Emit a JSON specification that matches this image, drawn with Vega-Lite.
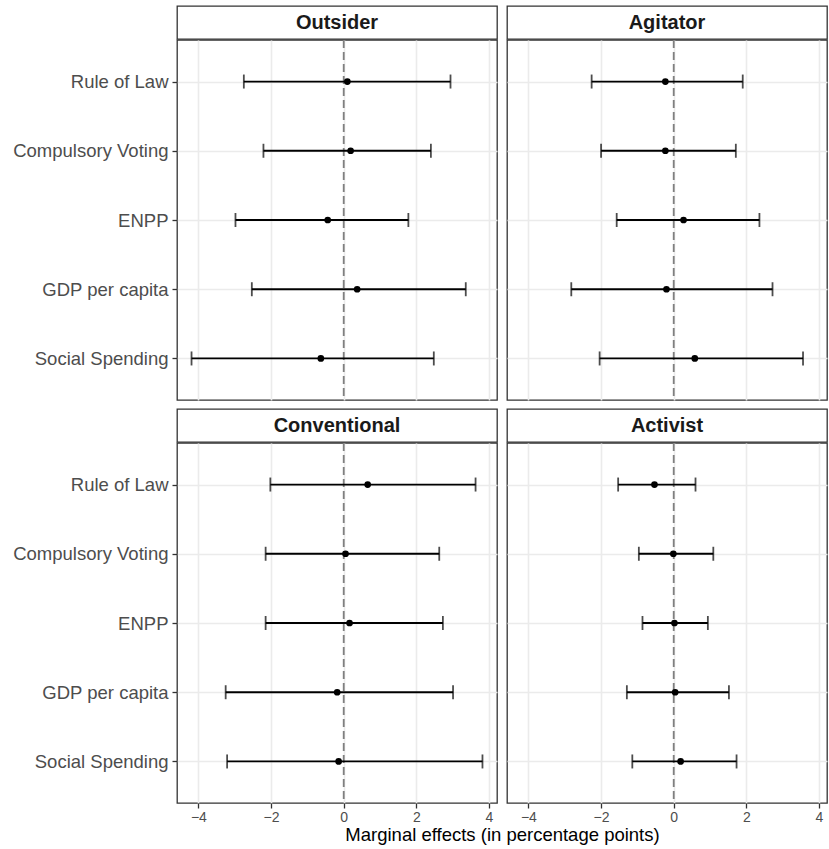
{
  "$schema": "https://vega.github.io/schema/vega-lite/v6.json",
  "padding": {"left": 12, "top": 5, "right": 0, "bottom": 0},
  "background": "white",
  "config": {
    "font": "Liberation Sans",
    "view": {"stroke": "#333333", "strokeWidth": 1.3}
  },
  "datasets": {
    "effects": [
      {"type": "Outsider", "var": "Rule of Law", "est": 0.10, "lo": -2.75, "hi": 2.94},
      {"type": "Outsider", "var": "Compulsory Voting", "est": 0.19, "lo": -2.21, "hi": 2.40},
      {"type": "Outsider", "var": "ENPP", "est": -0.44, "lo": -2.98, "hi": 1.78},
      {"type": "Outsider", "var": "GDP per capita", "est": 0.37, "lo": -2.53, "hi": 3.36},
      {"type": "Outsider", "var": "Social Spending", "est": -0.63, "lo": -4.19, "hi": 2.48},
      {"type": "Agitator", "var": "Rule of Law", "est": -0.23, "lo": -2.26, "hi": 1.90},
      {"type": "Agitator", "var": "Compulsory Voting", "est": -0.23, "lo": -2.00, "hi": 1.71},
      {"type": "Agitator", "var": "ENPP", "est": 0.27, "lo": -1.57, "hi": 2.36},
      {"type": "Agitator", "var": "GDP per capita", "est": -0.20, "lo": -2.82, "hi": 2.72},
      {"type": "Agitator", "var": "Social Spending", "est": 0.58, "lo": -2.04, "hi": 3.56},
      {"type": "Conventional", "var": "Rule of Law", "est": 0.66, "lo": -2.02, "hi": 3.63},
      {"type": "Conventional", "var": "Compulsory Voting", "est": 0.05, "lo": -2.15, "hi": 2.63},
      {"type": "Conventional", "var": "ENPP", "est": 0.16, "lo": -2.15, "hi": 2.73},
      {"type": "Conventional", "var": "GDP per capita", "est": -0.18, "lo": -3.25, "hi": 3.01},
      {"type": "Conventional", "var": "Social Spending", "est": -0.14, "lo": -3.21, "hi": 3.82},
      {"type": "Activist", "var": "Rule of Law", "est": -0.53, "lo": -1.53, "hi": 0.60},
      {"type": "Activist", "var": "Compulsory Voting", "est": -0.01, "lo": -0.96, "hi": 1.09},
      {"type": "Activist", "var": "ENPP", "est": 0.02, "lo": -0.86, "hi": 0.94},
      {"type": "Activist", "var": "GDP per capita", "est": 0.04, "lo": -1.29, "hi": 1.52},
      {"type": "Activist", "var": "Social Spending", "est": 0.19, "lo": -1.14, "hi": 1.73}
    ],
    "strips": [
      {"type": "Outsider"}, {"type": "Agitator"}, {"type": "Conventional"}, {"type": "Activist"}
    ],
    "zero": [{"zero": 0}]
  },
  "spacing": 6,
  "vconcat": [
    {
      "spacing": -2,
      "vconcat": [
        {
          "bounds": "flush",
          "spacing": 10,
          "hconcat": [
            {"data": {"name": "strips"}, "transform": [{"filter": "datum.type === 'Outsider'"}], "width": 320, "height": 33,
             "view": {"stroke": "#333333", "strokeWidth": 1.3, "fill": "white"},
             "mark": {"type": "text", "fontWeight": "bold", "fontSize": 20, "color": "#1a1a1a"},
             "encoding": {"text": {"field": "type"}}},
            {"data": {"name": "strips"}, "transform": [{"filter": "datum.type === 'Agitator'"}], "width": 320, "height": 33,
             "view": {"stroke": "#333333", "strokeWidth": 1.3, "fill": "white"},
             "mark": {"type": "text", "fontWeight": "bold", "fontSize": 20, "color": "#1a1a1a"},
             "encoding": {"text": {"field": "type"}}}
          ]
        },
        {
          "bounds": "flush",
          "spacing": 10,
          "hconcat": [
            {
              "width": 320, "height": 360,
              "data": {"name": "effects"},
              "transform": [{"filter": "datum.type === 'Outsider'"}],
              "layer": [
                {"data": {"name": "zero"},
                 "mark": {"type": "rule", "color": "#7f7f7f", "strokeDash": [8, 4], "strokeWidth": 1.8},
                 "encoding": {"x": {"field": "zero", "type": "quantitative", "scale": {"domain": [-4.59, 4.22], "nice": false, "zero": false},
                   "axis": {"values": [-4, -3, -2, -1, 0, 1, 2, 3, 4], "labels": false, "ticks": false, "domain": false, "title": null, "gridColor": "#ebebeb", "gridWidth": {"condition": {"test": "datum.value % 2 !== 0", "value": 0.9}, "value": 1.6}}}}},
                {"mark": {"type": "rule", "color": "black", "strokeWidth": 1.8},
                 "encoding": {
                   "x": {"field": "lo", "type": "quantitative", "scale": {"domain": [-4.59, 4.22], "nice": false, "zero": false},
                     "axis": {"values": [-4, -3, -2, -1, 0, 1, 2, 3, 4], "labels": false, "ticks": false, "domain": false, "title": null, "gridColor": "#ebebeb", "gridWidth": {"condition": {"test": "datum.value % 2 !== 0", "value": 0.9}, "value": 1.6}}},
                   "x2": {"field": "hi"},
                   "y": {"field": "var", "type": "nominal", "sort": ["Rule of Law", "Compulsory Voting", "ENPP", "GDP per capita", "Social Spending"], "scale": {"type": "point", "padding": 0.6},
                     "axis": {"title": null, "domain": false, "grid": true, "gridColor": "#ebebeb", "gridWidth": 1.6, "tickSize": 5, "tickColor": "#333333", "tickWidth": 1.3, "labelFontSize": 18.5, "labelColor": "#4d4d4d", "labelPadding": 4}}}},
                {"mark": {"type": "tick", "color": "black", "size": 14, "thickness": 1.8},
                 "encoding": {
                   "x": {"field": "lo", "type": "quantitative"},
                   "y": {"field": "var", "type": "nominal", "sort": ["Rule of Law", "Compulsory Voting", "ENPP", "GDP per capita", "Social Spending"]}}},
                {"mark": {"type": "tick", "color": "black", "size": 14, "thickness": 1.8},
                 "encoding": {
                   "x": {"field": "hi", "type": "quantitative"},
                   "y": {"field": "var", "type": "nominal", "sort": ["Rule of Law", "Compulsory Voting", "ENPP", "GDP per capita", "Social Spending"]}}},
                {"mark": {"type": "point", "filled": true, "color": "black", "opacity": 1, "size": 45},
                 "encoding": {
                   "x": {"field": "est", "type": "quantitative"},
                   "y": {"field": "var", "type": "nominal", "sort": ["Rule of Law", "Compulsory Voting", "ENPP", "GDP per capita", "Social Spending"]}}}
              ]
            },
            {
              "width": 320, "height": 360,
              "data": {"name": "effects"},
              "transform": [{"filter": "datum.type === 'Agitator'"}],
              "layer": [
                {"data": {"name": "zero"},
                 "mark": {"type": "rule", "color": "#7f7f7f", "strokeDash": [8, 4], "strokeWidth": 1.8},
                 "encoding": {"x": {"field": "zero", "type": "quantitative", "scale": {"domain": [-4.59, 4.22], "nice": false, "zero": false},
                   "axis": {"values": [-4, -3, -2, -1, 0, 1, 2, 3, 4], "labels": false, "ticks": false, "domain": false, "title": null, "gridColor": "#ebebeb", "gridWidth": {"condition": {"test": "datum.value % 2 !== 0", "value": 0.9}, "value": 1.6}}}}},
                {"mark": {"type": "rule", "color": "black", "strokeWidth": 1.8},
                 "encoding": {
                   "x": {"field": "lo", "type": "quantitative", "scale": {"domain": [-4.59, 4.22], "nice": false, "zero": false},
                     "axis": {"values": [-4, -3, -2, -1, 0, 1, 2, 3, 4], "labels": false, "ticks": false, "domain": false, "title": null, "gridColor": "#ebebeb", "gridWidth": {"condition": {"test": "datum.value % 2 !== 0", "value": 0.9}, "value": 1.6}}},
                   "x2": {"field": "hi"},
                   "y": {"field": "var", "type": "nominal", "sort": ["Rule of Law", "Compulsory Voting", "ENPP", "GDP per capita", "Social Spending"], "scale": {"type": "point", "padding": 0.6},
                     "axis": {"title": null, "domain": false, "labels": false, "ticks": false, "grid": true, "gridColor": "#ebebeb", "gridWidth": 1.6}}}},
                {"mark": {"type": "tick", "color": "black", "size": 14, "thickness": 1.8},
                 "encoding": {
                   "x": {"field": "lo", "type": "quantitative"},
                   "y": {"field": "var", "type": "nominal", "sort": ["Rule of Law", "Compulsory Voting", "ENPP", "GDP per capita", "Social Spending"]}}},
                {"mark": {"type": "tick", "color": "black", "size": 14, "thickness": 1.8},
                 "encoding": {
                   "x": {"field": "hi", "type": "quantitative"},
                   "y": {"field": "var", "type": "nominal", "sort": ["Rule of Law", "Compulsory Voting", "ENPP", "GDP per capita", "Social Spending"]}}},
                {"mark": {"type": "point", "filled": true, "color": "black", "opacity": 1, "size": 45},
                 "encoding": {
                   "x": {"field": "est", "type": "quantitative"},
                   "y": {"field": "var", "type": "nominal", "sort": ["Rule of Law", "Compulsory Voting", "ENPP", "GDP per capita", "Social Spending"]}}}
              ]
            }
          ]
        }
      ]
    },
    {
      "spacing": -2,
      "vconcat": [
        {
          "bounds": "flush",
          "spacing": 10,
          "hconcat": [
            {"data": {"name": "strips"}, "transform": [{"filter": "datum.type === 'Conventional'"}], "width": 320, "height": 33,
             "view": {"stroke": "#333333", "strokeWidth": 1.3, "fill": "white"},
             "mark": {"type": "text", "fontWeight": "bold", "fontSize": 20, "color": "#1a1a1a"},
             "encoding": {"text": {"field": "type"}}},
            {"data": {"name": "strips"}, "transform": [{"filter": "datum.type === 'Activist'"}], "width": 320, "height": 33,
             "view": {"stroke": "#333333", "strokeWidth": 1.3, "fill": "white"},
             "mark": {"type": "text", "fontWeight": "bold", "fontSize": 20, "color": "#1a1a1a"},
             "encoding": {"text": {"field": "type"}}}
          ]
        },
        {
          "bounds": "flush",
          "spacing": 10,
          "hconcat": [
            {
              "width": 320, "height": 360,
              "data": {"name": "effects"},
              "transform": [{"filter": "datum.type === 'Conventional'"}],
              "layer": [
                {"data": {"name": "zero"},
                 "mark": {"type": "rule", "color": "#7f7f7f", "strokeDash": [8, 4], "strokeWidth": 1.8},
                 "encoding": {"x": {"field": "zero", "type": "quantitative", "scale": {"domain": [-4.59, 4.22], "nice": false, "zero": false},
                   "axis": {"values": [-4, -3, -2, -1, 0, 1, 2, 3, 4], "labelExpr": "datum.value % 2 === 0 ? datum.label : ''", "tickOpacity": {"condition": {"test": "datum.value % 2 !== 0", "value": 0}, "value": 1}, "domain": false, "tickSize": 5, "tickColor": "#333333", "tickWidth": 1.3, "labelFontSize": 14, "labelColor": "#4d4d4d", "labelPadding": 2, "gridColor": "#ebebeb", "gridWidth": {"condition": {"test": "datum.value % 2 !== 0", "value": 0.9}, "value": 1.6}, "title": "Marginal effects (in percentage points)", "titleFontSize": 18.5, "titleFontWeight": "normal", "titleColor": "#000000", "titlePadding": 1, "titleX": 325, "titleAlign": "center", "titleBaseline": "top"}}}},
                {"mark": {"type": "rule", "color": "black", "strokeWidth": 1.8},
                 "encoding": {
                   "x": {"field": "lo", "type": "quantitative", "scale": {"domain": [-4.59, 4.22], "nice": false, "zero": false},
                     "axis": {"values": [-4, -3, -2, -1, 0, 1, 2, 3, 4], "labelExpr": "datum.value % 2 === 0 ? datum.label : ''", "tickOpacity": {"condition": {"test": "datum.value % 2 !== 0", "value": 0}, "value": 1}, "domain": false, "tickSize": 5, "tickColor": "#333333", "tickWidth": 1.3, "labelFontSize": 14, "labelColor": "#4d4d4d", "labelPadding": 2, "gridColor": "#ebebeb", "gridWidth": {"condition": {"test": "datum.value % 2 !== 0", "value": 0.9}, "value": 1.6}, "title": "Marginal effects (in percentage points)", "titleFontSize": 18.5, "titleFontWeight": "normal", "titleColor": "#000000", "titlePadding": 1, "titleX": 325, "titleAlign": "center", "titleBaseline": "top"}},
                   "x2": {"field": "hi"},
                   "y": {"field": "var", "type": "nominal", "sort": ["Rule of Law", "Compulsory Voting", "ENPP", "GDP per capita", "Social Spending"], "scale": {"type": "point", "padding": 0.6},
                     "axis": {"title": null, "domain": false, "grid": true, "gridColor": "#ebebeb", "gridWidth": 1.6, "tickSize": 5, "tickColor": "#333333", "tickWidth": 1.3, "labelFontSize": 18.5, "labelColor": "#4d4d4d", "labelPadding": 4}}}},
                {"mark": {"type": "tick", "color": "black", "size": 14, "thickness": 1.8},
                 "encoding": {
                   "x": {"field": "lo", "type": "quantitative"},
                   "y": {"field": "var", "type": "nominal", "sort": ["Rule of Law", "Compulsory Voting", "ENPP", "GDP per capita", "Social Spending"]}}},
                {"mark": {"type": "tick", "color": "black", "size": 14, "thickness": 1.8},
                 "encoding": {
                   "x": {"field": "hi", "type": "quantitative"},
                   "y": {"field": "var", "type": "nominal", "sort": ["Rule of Law", "Compulsory Voting", "ENPP", "GDP per capita", "Social Spending"]}}},
                {"mark": {"type": "point", "filled": true, "color": "black", "opacity": 1, "size": 45},
                 "encoding": {
                   "x": {"field": "est", "type": "quantitative"},
                   "y": {"field": "var", "type": "nominal", "sort": ["Rule of Law", "Compulsory Voting", "ENPP", "GDP per capita", "Social Spending"]}}}
              ]
            },
            {
              "width": 320, "height": 360,
              "data": {"name": "effects"},
              "transform": [{"filter": "datum.type === 'Activist'"}],
              "layer": [
                {"data": {"name": "zero"},
                 "mark": {"type": "rule", "color": "#7f7f7f", "strokeDash": [8, 4], "strokeWidth": 1.8},
                 "encoding": {"x": {"field": "zero", "type": "quantitative", "scale": {"domain": [-4.59, 4.22], "nice": false, "zero": false},
                   "axis": {"values": [-4, -3, -2, -1, 0, 1, 2, 3, 4], "labelExpr": "datum.value % 2 === 0 ? datum.label : ''", "tickOpacity": {"condition": {"test": "datum.value % 2 !== 0", "value": 0}, "value": 1}, "domain": false, "tickSize": 5, "tickColor": "#333333", "tickWidth": 1.3, "labelFontSize": 14, "labelColor": "#4d4d4d", "labelPadding": 2, "gridColor": "#ebebeb", "gridWidth": {"condition": {"test": "datum.value % 2 !== 0", "value": 0.9}, "value": 1.6}, "title": null}}}},
                {"mark": {"type": "rule", "color": "black", "strokeWidth": 1.8},
                 "encoding": {
                   "x": {"field": "lo", "type": "quantitative", "scale": {"domain": [-4.59, 4.22], "nice": false, "zero": false},
                     "axis": {"values": [-4, -3, -2, -1, 0, 1, 2, 3, 4], "labelExpr": "datum.value % 2 === 0 ? datum.label : ''", "tickOpacity": {"condition": {"test": "datum.value % 2 !== 0", "value": 0}, "value": 1}, "domain": false, "tickSize": 5, "tickColor": "#333333", "tickWidth": 1.3, "labelFontSize": 14, "labelColor": "#4d4d4d", "labelPadding": 2, "gridColor": "#ebebeb", "gridWidth": {"condition": {"test": "datum.value % 2 !== 0", "value": 0.9}, "value": 1.6}, "title": null}},
                   "x2": {"field": "hi"},
                   "y": {"field": "var", "type": "nominal", "sort": ["Rule of Law", "Compulsory Voting", "ENPP", "GDP per capita", "Social Spending"], "scale": {"type": "point", "padding": 0.6},
                     "axis": {"title": null, "domain": false, "labels": false, "ticks": false, "grid": true, "gridColor": "#ebebeb", "gridWidth": 1.6}}}},
                {"mark": {"type": "tick", "color": "black", "size": 14, "thickness": 1.8},
                 "encoding": {
                   "x": {"field": "lo", "type": "quantitative"},
                   "y": {"field": "var", "type": "nominal", "sort": ["Rule of Law", "Compulsory Voting", "ENPP", "GDP per capita", "Social Spending"]}}},
                {"mark": {"type": "tick", "color": "black", "size": 14, "thickness": 1.8},
                 "encoding": {
                   "x": {"field": "hi", "type": "quantitative"},
                   "y": {"field": "var", "type": "nominal", "sort": ["Rule of Law", "Compulsory Voting", "ENPP", "GDP per capita", "Social Spending"]}}},
                {"mark": {"type": "point", "filled": true, "color": "black", "opacity": 1, "size": 45},
                 "encoding": {
                   "x": {"field": "est", "type": "quantitative"},
                   "y": {"field": "var", "type": "nominal", "sort": ["Rule of Law", "Compulsory Voting", "ENPP", "GDP per capita", "Social Spending"]}}}
              ]
            }
          ]
        }
      ]
    }
  ]
}
